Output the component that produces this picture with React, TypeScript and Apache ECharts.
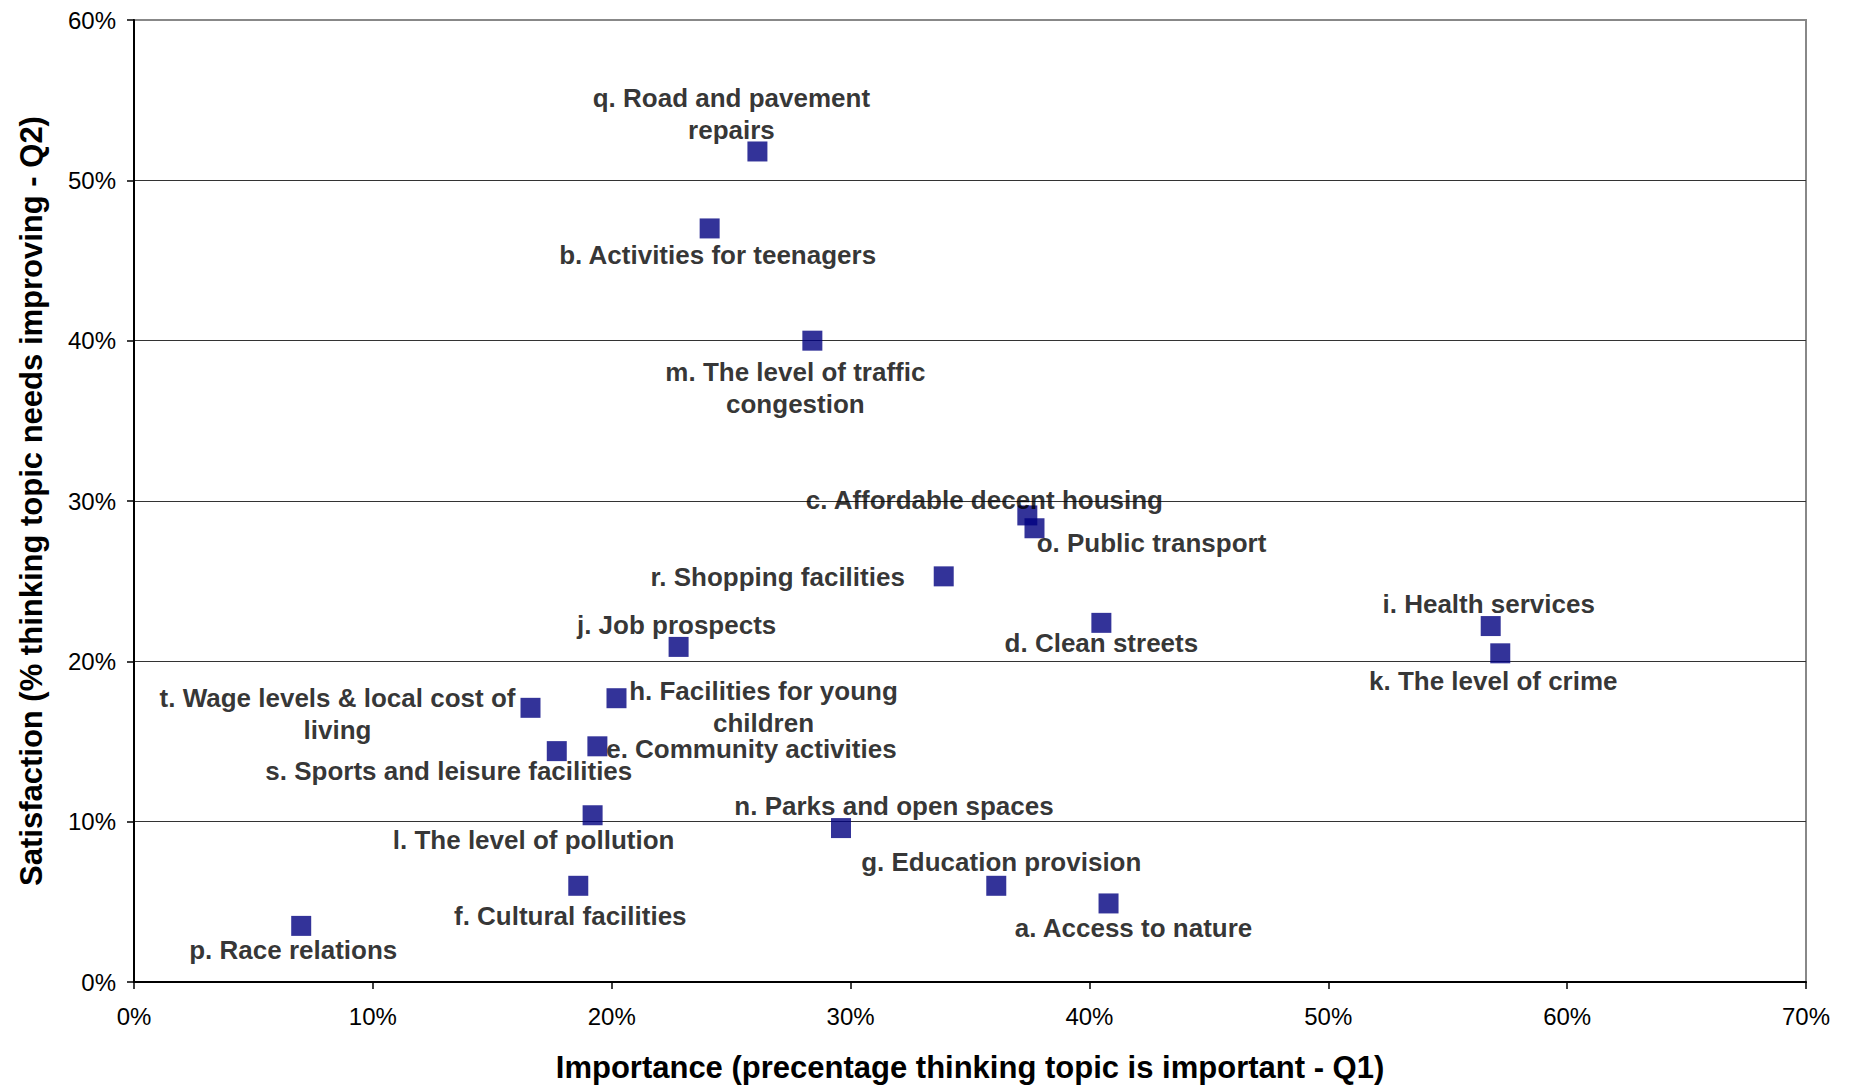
import React, { useEffect, useRef } from "react";
import * as echarts from "echarts";

const topicNames = [
  "q. Road and pavement\nrepairs",
  "b. Activities for teenagers",
  "m. The level of traffic\ncongestion",
  "c. Affordable decent housing",
  "o. Public transport",
  "r. Shopping facilities",
  "d. Clean streets",
  "i. Health services",
  "k. The level of crime",
  "j. Job prospects",
  "h. Facilities for young\nchildren",
  "t. Wage levels & local cost of\nliving",
  "e. Community activities",
  "s. Sports and leisure facilities",
  "l. The level of pollution",
  "n. Parks and open spaces",
  "g. Education provision",
  "a. Access to nature",
  "f. Cultural facilities",
  "p. Race relations",
];

// Importance (% thinking topic is important - Q1)
const importance = [26.1, 24.1, 28.4, 37.4, 37.7, 33.9, 40.5, 56.8, 57.2, 22.8, 20.2, 16.6, 19.4, 17.7, 19.2, 29.6, 36.1, 40.8, 18.6, 7.0];
// Satisfaction (% thinking topic needs improving - Q2)
const satisfaction = [51.8, 47.0, 40.0, 29.1, 28.3, 25.3, 22.4, 22.2, 20.5, 20.9, 17.7, 17.1, 14.7, 14.4, 10.4, 9.6, 6.0, 4.9, 6.0, 3.5];

const xTicks = [0, 10, 20, 30, 40, 50, 60, 70];
const yTicks = [0, 10, 20, 30, 40, 50, 60];

// label placement relative to each marker (layout, px)
const labelOffsets: [number, number][] = [
  [-26, -37],
  [8, 27],
  [-17, 47],
  [-43, -15],
  [117, 15],
  [-166, 1],
  [0, 20],
  [-2, -22],
  [-7, 28],
  [-2, -22],
  [147, 9],
  [-193, 6],
  [154, 3],
  [-108, 20],
  [-59, 25],
  [53, -22],
  [5, -24],
  [25, 25],
  [-8, 30],
  [-8, 24],
];

const FONT = "'Liberation Sans', Arial, sans-serif";

export default function App() {
  const ref = useRef<HTMLDivElement>(null);
  useEffect(() => {
    if (!ref.current) return;
    const chart = echarts.init(ref.current, undefined, { renderer: "svg" });
    const data = importance.map((x, i) => ({
      value: [x, satisfaction[i]],
      name: topicNames[i],
      label: {
        show: true,
        position: "inside",
        offset: labelOffsets[i],
        formatter: topicNames[i],
        align: "center",
        verticalAlign: "middle",
        color: "#000",
        fontFamily: FONT,
        fontWeight: "bold",
        fontSize: 26,
        lineHeight: 32,
      },
    }));
    chart.setOption({
      animation: false,
      backgroundColor: "#fff",
      grid: {
        left: 134,
        right: 48,
        top: 20,
        bottom: 104,
        show: true,
        borderColor: "#888",
        borderWidth: 2,
        backgroundColor: "transparent",
      },
      xAxis: {
        type: "value",
        min: xTicks[0],
        max: xTicks[xTicks.length - 1],
        interval: 10,
        name: "Importance (precentage thinking topic is important - Q1)",
        nameLocation: "middle",
        nameGap: 70,
        nameTextStyle: { fontFamily: FONT, fontWeight: "bold", fontSize: 31, color: "#000" },
        axisLine: { show: true, onZero: false, lineStyle: { color: "#000", width: 2 } },
        axisTick: { show: true, inside: false, length: 7, lineStyle: { color: "#000", width: 1.5 } },
        axisLabel: { formatter: "{value}%", fontFamily: FONT, fontSize: 24, color: "#000", margin: 22 },
        splitLine: { show: false },
      },
      yAxis: {
        type: "value",
        min: yTicks[0],
        max: yTicks[yTicks.length - 1],
        interval: 10,
        name: "Satisfaction (% thinking topic needs improving - Q2)",
        nameLocation: "middle",
        nameGap: 87,
        nameTextStyle: { fontFamily: FONT, fontWeight: "bold", fontSize: 31, color: "#000" },
        axisLine: { show: true, onZero: false, lineStyle: { color: "#000", width: 2 } },
        axisTick: { show: true, inside: false, length: 7, lineStyle: { color: "#000", width: 1.5 } },
        axisLabel: { formatter: "{value}%", fontFamily: FONT, fontSize: 24, color: "#000", margin: 18 },
        splitLine: {
          show: true,
          showMinLine: false,
          showMaxLine: false,
          lineStyle: { color: "#333", width: 1.2 },
        },
      },
      series: [
        {
          type: "scatter",
          symbol: "rect",
          symbolSize: 20,
          itemStyle: { color: "#000080", borderColor: "#000080", borderWidth: 0 },
          data,
          z: 3,
        },
      ],
    });
    return () => chart.dispose();
  }, []);
  return (
    <div
      ref={ref}
      style={{ position: "fixed", left: 0, top: 0, width: 1854, height: 1088, background: "#fff" }}
    />
  );
}
